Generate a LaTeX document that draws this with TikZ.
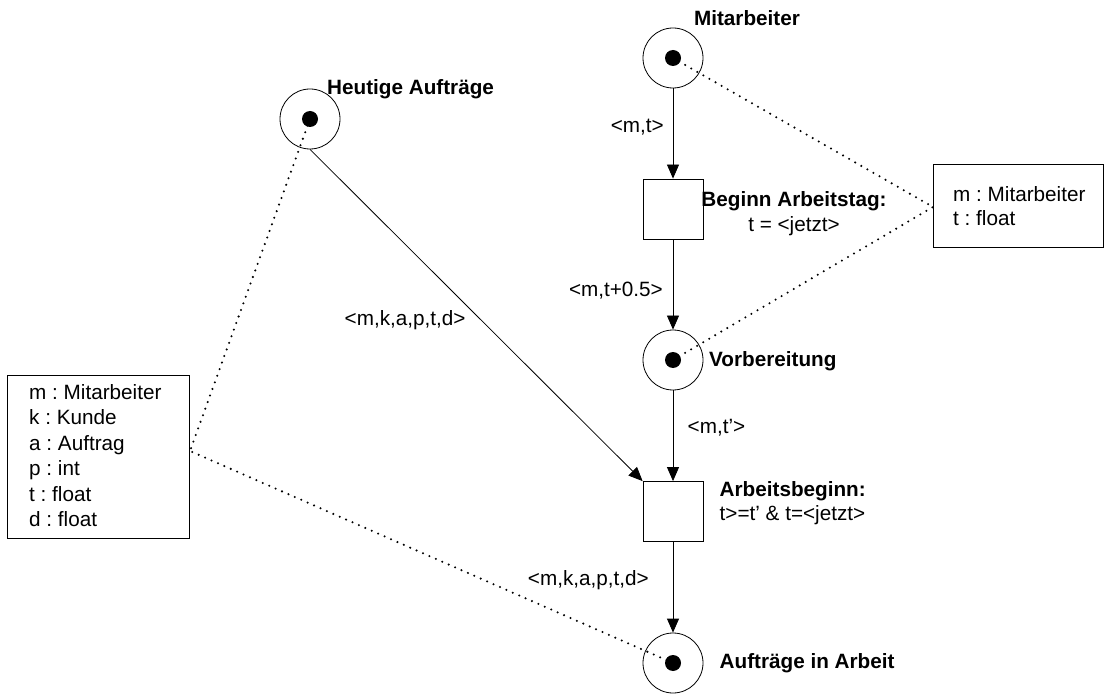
\documentclass[tikz,border=0pt]{standalone}
\usepackage{fontspec}
\setmainfont{Liberation Sans}
\usetikzlibrary{arrows.meta}
\frenchspacing
\newcommand\lblfont{\fontsize{20.7}{24}\selectfont}
\begin{document}
\begin{tikzpicture}[x=1pt,y=-1pt,
  place/.style={circle, draw, line width=0.8pt, minimum size=60pt, inner sep=0pt},
  trans/.style={rectangle, draw, line width=0.8pt, minimum size=60pt, inner sep=0pt},
  token/.style={circle, fill, minimum size=16pt, inner sep=0pt},
  arc/.style={-{Triangle[width=12pt,length=14pt]}, line width=0.8pt},
  link/.style={line width=2.3pt, dash pattern=on 0pt off 7pt, line cap=round},
  lbl/.style={inner sep=0pt, font=\lblfont},
  pname/.style={inner sep=0pt, font=\lblfont\bfseries},
  decl/.style={rectangle, draw, line width=0.8pt, inner sep=0pt, anchor=north west}
]
\useasboundingbox (0,0) rectangle (1112,695);

% places with one token each
\node[place] (mit) at (673,58) {};
\node[token] (mitT) at (mit.center) {};
\node[place] (heu) at (310,119) {};
\node[token] (heuT) at (heu.center) {};
\node[place] (vor) at (673,360) {};
\node[token] (vorT) at (vor.center) {};
\node[place] (auf) at (673,663) {};
\node[token] (aufT) at (auf.center) {};

% transitions
\node[trans] (beg) at (673,209) {};
\node[trans] (arb) at (673,511.5) {};

% declaration boxes
\node[decl, minimum width=170pt, minimum height=83pt] (rbox) at (933,164) {};
\node[decl, minimum width=182pt, minimum height=163pt] (lbox) at (7,375) {};
\coordinate (rjoin) at (933,207);
\coordinate (ljoin) at (190,451);

% arcs
\draw[arc] (mit) -- (beg);
\draw[arc] (beg) -- (vor);
\draw[arc] (vor) -- (arb);
\draw[arc] (heu.south) -- (arb.north west);
\draw[arc] (arb) -- (auf);

% dotted links from tokens to the variable declarations
\draw[link] (mitT.center) -- (rjoin);
\draw[link] (vorT.center) -- (rjoin);
\draw[link] (heuT.center) -- (ljoin);
\draw[link] (aufT.center) -- (ljoin);

% place names
\node[pname, anchor=base] (nMit) at (747,26) {Mitarbeiter};
\node[pname, anchor=base west] (nHeu) at (327,94.5) {Heutige Aufträge};
\node[pname, anchor=base west] (nVor) at (709,366.5) {Vorbereitung};
\node[pname, anchor=base west] (nAuf) at (719.5,668) {Aufträge in Arbeit};

% transition names and guards
\node[pname, anchor=base] (nBeg) at (794,206.5) {Beginn Arbeitstag:};
\node[lbl, anchor=base] (gBeg) at (794,231.5) {t = <jetzt>};
\node[pname, anchor=base west] (nArb) at (719.5,496.5) {Arbeitsbeginn:};
\node[lbl, anchor=base west] (gArb) at (719.5,520) {t>=t’ \& t=<jetzt>};

% arc inscriptions
\node[lbl, anchor=base east] (i1) at (664,133) {<m,t>};
\node[lbl, anchor=base east] (i2) at (663,296.5) {<m,t+0.5>};
\node[lbl, anchor=base west] (i3) at (687.5,433) {<m,t’>};
\node[lbl, anchor=base west] (i4) at (344.5,326) {<m,k,a,p,t,d>};
\node[lbl, anchor=base east] (i5) at (649,585) {<m,k,a,p,t,d>};

% declarations
\node[lbl, anchor=base west] (r1) at (953,201.5) {m : Mitarbeiter};
\node[lbl, anchor=base west] (r2) at (953,225.5) {t : float};
\foreach [count=\i] \s in {m : Mitarbeiter, k : Kunde, a : Auftrag, p : int, t : float, d : float}
  \node[lbl, anchor=base west] (l\i) at (29,{399+25.5*(\i-1)}) {\s};
\end{tikzpicture}
\end{document}
